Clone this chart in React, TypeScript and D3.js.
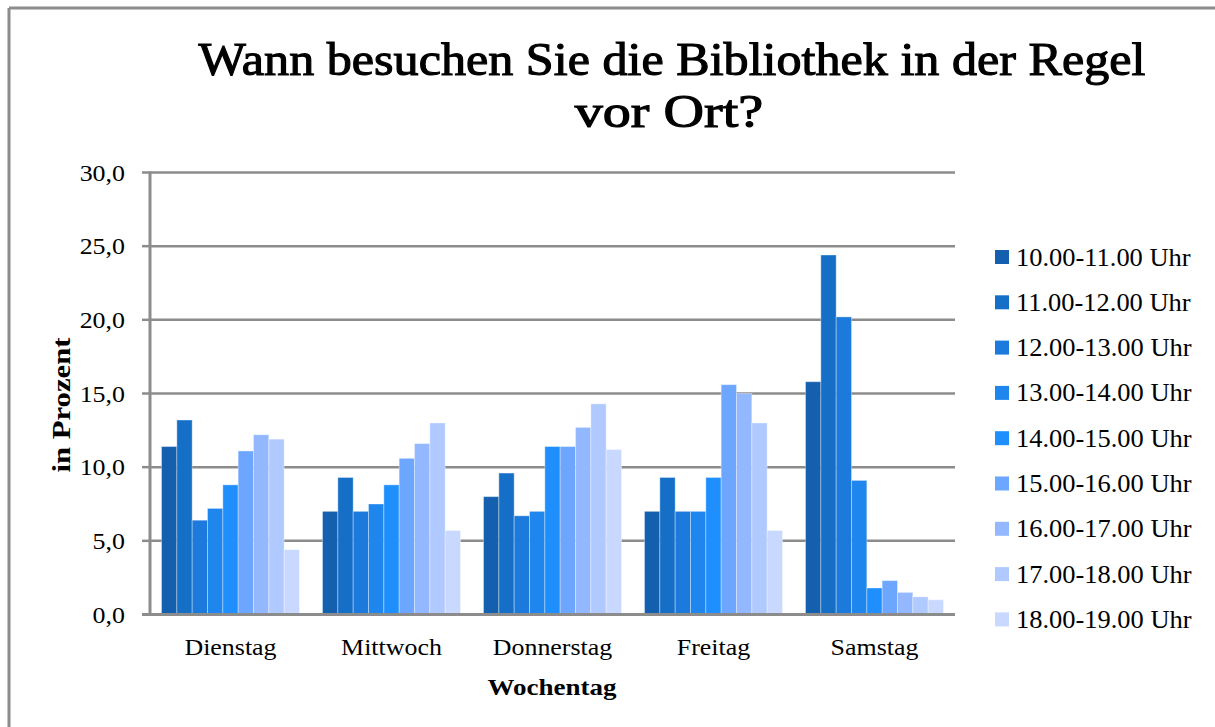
import React from "react";
import * as d3 from "d3";

const categories = ["Dienstag", "Mittwoch", "Donnerstag", "Freitag", "Samstag"];
const seriesNames = [
  "10.00-11.00 Uhr",
  "11.00-12.00 Uhr",
  "12.00-13.00 Uhr",
  "13.00-14.00 Uhr",
  "14.00-15.00 Uhr",
  "15.00-16.00 Uhr",
  "16.00-17.00 Uhr",
  "17.00-18.00 Uhr",
  "18.00-19.00 Uhr",
];
// values per series, across categories
const s1000 = [11.4, 7.0, 8.0, 7.0, 15.8];
const s1100 = [13.2, 9.3, 9.6, 9.3, 24.4];
const s1200 = [6.4, 7.0, 6.7, 7.0, 20.2];
const s1300 = [7.2, 7.5, 7.0, 7.0, 9.1];
const s1400 = [8.8, 8.8, 11.4, 9.3, 1.8];
const s1500 = [11.1, 10.6, 11.4, 15.6, 2.3];
const s1600 = [12.2, 11.6, 12.7, 15.0, 1.5];
const s1700 = [11.9, 13.0, 14.3, 13.0, 1.2];
const s1800 = [4.4, 5.7, 11.2, 5.7, 1.0];
const seriesValues = [s1000, s1100, s1200, s1300, s1400, s1500, s1600, s1700, s1800];
const colors = [
  "#1560AE",
  "#166FC7",
  "#1B7ADB",
  "#1E86EC",
  "#1F8FFE",
  "#6CA6FF",
  "#93B8FF",
  "#B0C9FF",
  "#C8D8FF",
];
const yTicks = [0, 5, 10, 15, 20, 25, 30];
const titleLines = ["Wann besuchen Sie die Bibliothek in der Regel", "vor Ort?"];

export default function App() {
  const W = 1215;
  const H = 727;
  const left = 150;
  const right = 955;
  const top = 172.5;
  const bottom = 614.5;
  const SX = 1.08;

  const x0 = d3.scaleBand<string>().domain(categories).range([left, right]).paddingInner(0.143).paddingOuter(0.0715);
  const x1 = d3.scaleBand<number>().domain(d3.range(seriesNames.length)).range([0, x0.bandwidth()]);
  const y = d3.scaleLinear().domain([0, 30]).range([bottom, top]);
  const fmt = (v: number) => d3.format(".1f")(v).replace(".", ",");

  const serif = "'Liberation Serif', 'Times New Roman', serif";

  return (
    <svg width={W} height={H} style={{ position: "absolute", left: 0, top: 0, background: "#fff" }}>
      <rect x={0} y={0} width={W} height={H} fill="#fff" />
      {/* outer frame */}
      <line x1={9} y1={8} x2={9} y2={H} stroke="#8c8c8c" strokeWidth={3} />
      <line x1={9} y1={8} x2={W} y2={8} stroke="#8c8c8c" strokeWidth={3} />

      {/* title */}
      <text transform={`translate(672,75) scale(1.09,1)`} textAnchor="middle" fontFamily={serif} fontSize={46} fill="#000"
        stroke="#000" strokeWidth={1.1}>
        {titleLines[0]}
      </text>
      <text transform={`translate(669,127) scale(1.22,1)`} textAnchor="middle" fontFamily={serif} fontSize={46} fill="#000"
        stroke="#000" strokeWidth={1.1}>
        {titleLines[1]}
      </text>

      {/* gridlines and y ticks */}
      {yTicks.map((t) => (
        <g key={t}>
          <line x1={left} x2={right} y1={y(t)} y2={y(t)} stroke="#8c8c8c" strokeWidth={2.5} />
          <line x1={left - 8} x2={left} y1={y(t)} y2={y(t)} stroke="#8c8c8c" strokeWidth={2.5} />
          <text transform={`translate(125,${y(t) + 8}) scale(${SX},1)`} textAnchor="end" fontFamily={serif} fontSize={24} fill="#000">
            {fmt(t)}
          </text>
        </g>
      ))}

      {/* bars */}
      {categories.map((c, ci) => (
        <g key={c} transform={`translate(${x0(c)},0)`}>
          {seriesValues.map((vals, si) => (
            <rect
              key={si}
              x={x1(si)}
              y={y(vals[ci])}
              width={x1.bandwidth()}
              height={y(0) - y(vals[ci])}
              fill={colors[si]}
              stroke="rgba(255,255,255,0.35)"
              strokeWidth={1}
            />
          ))}
        </g>
      ))}

      {/* axes lines */}
      <line x1={left} x2={left} y1={top - 1} y2={bottom + 1} stroke="#8c8c8c" strokeWidth={3} />
      <line x1={left - 8} x2={right} y1={bottom} y2={bottom} stroke="#8c8c8c" strokeWidth={3} />

      {/* x labels */}
      {categories.map((c) => (
        <text
          key={c}
          transform={`translate(${(x0(c) as number) + x0.bandwidth() / 2},655) scale(${SX},1)`}
          textAnchor="middle"
          fontFamily={serif}
          fontSize={24}
          fill="#000"
        >
          {c}
        </text>
      ))}
      <text x={552} y={695} textAnchor="middle" fontFamily={serif} fontWeight="bold" fontSize={24} fill="#000"
        textLength={129} lengthAdjust="spacingAndGlyphs">
        Wochentag
      </text>
      <text
        transform={`translate(70,405) rotate(-90)`}
        textAnchor="middle"
        fontFamily={serif}
        fontWeight="bold"
        fontSize={25}
        fill="#000"
        textLength={135}
        lengthAdjust="spacingAndGlyphs"
      >
        in Prozent
      </text>

      {/* legend */}
      {seriesNames.map((n, i) => {
        const cy = 257 + i * 45.3;
        return (
          <g key={n}>
            <rect x={995} y={cy - 7} width={14} height={14} fill={colors[i]} />
            <text transform={`translate(1016,${cy + 8.5}) scale(${SX},1)`} fontFamily={serif} fontSize={24.5} fill="#000">
              {n}
            </text>
          </g>
        );
      })}
    </svg>
  );
}
